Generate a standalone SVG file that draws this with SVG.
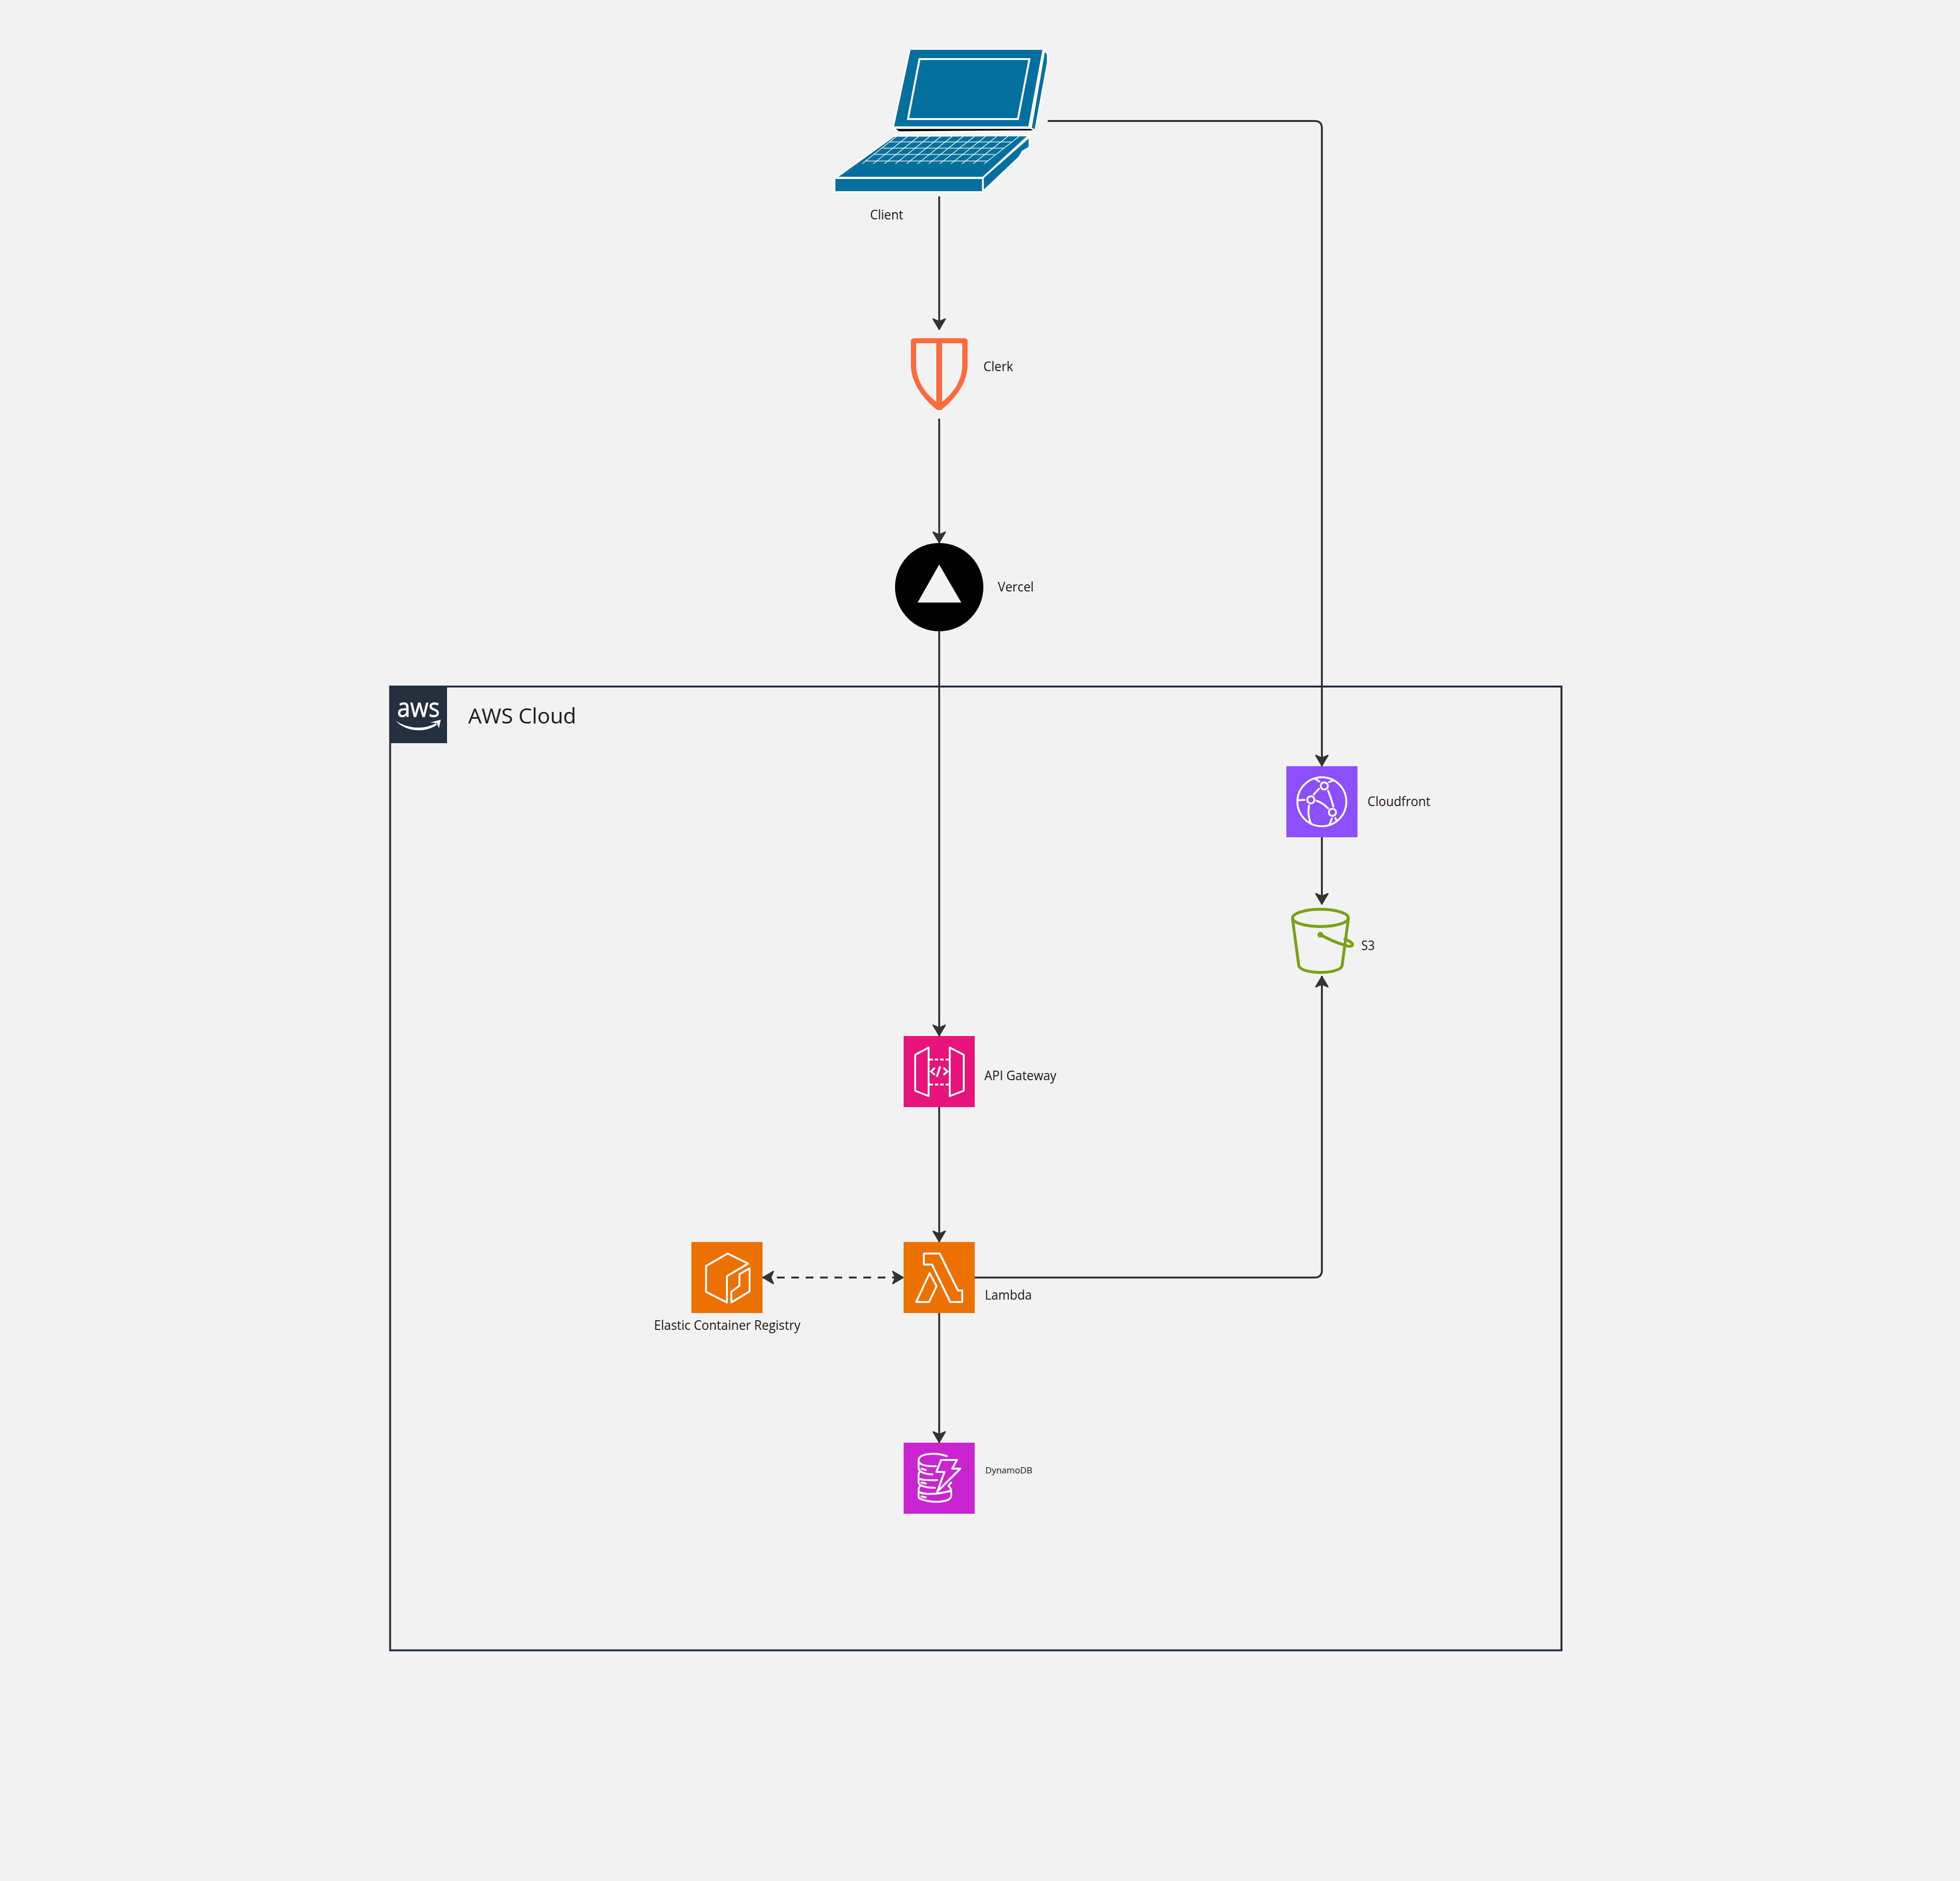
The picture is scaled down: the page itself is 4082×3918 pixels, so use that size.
<svg xmlns="http://www.w3.org/2000/svg" width="4082" height="3918" viewBox="0 0 4082 3918">
<style>
text{font-family:"Open Sans","Noto Sans","Liberation Sans",sans-serif;fill:#1a1a1a;font-size:26.5px}
.c{fill:none;stroke:#333;stroke-width:4}
.w{fill:none;stroke:#fff;stroke-width:4;stroke-linejoin:round;stroke-linecap:round}
.l{fill:#04709f;stroke:#fff;stroke-width:3.5;stroke-linejoin:miter}
.g{stroke:#fff;stroke-width:1.5;fill:none}
.g2{stroke:#cfe3ec;stroke-width:1.8;fill:none}
</style>
<defs>
<marker id="ah" markerUnits="userSpaceOnUse" markerWidth="36" markerHeight="36" viewBox="-32 -18 36 36" refX="0" refY="0" orient="auto-start-reverse">
<path d="M-22.5,-12.5 L-1.5,0 L-22.5,12.5 L-17,0 Z" fill="#333" stroke="#333" stroke-width="3" stroke-linejoin="round"/>
</marker>
</defs>
<rect width="4082" height="3918" fill="#f2f2f2"/>
<g id="aws-cloud">
<rect x="812.5" y="1430" width="2439.5" height="2007.5" fill="none" stroke="#232f3e" stroke-width="4"/>
<rect x="811" y="1428" width="120" height="120" fill="#232f3e"/>
<text x="827" y="1493" style="font-size:54px;fill:#fff;stroke:#fff;stroke-width:.8" textLength="89" lengthAdjust="spacingAndGlyphs">aws</text>
<path d="M824,1501 C850,1519 885,1520 908,1506 L910,1510 C885,1527 845,1525 824,1501 Z" fill="#fff"/>
<path d="M896,1505 L918,1499 L914,1517 L910,1506 Z" fill="#fff"/>
<text x="975" y="1507" style="font-size:44.5px" textLength="225" lengthAdjust="spacingAndGlyphs">AWS Cloud</text>
</g>
<g id="connectors">
<path class="c" d="M1956,409 V687" marker-end="url(#ah)"/>
<path class="c" d="M1956,872 V1131" marker-end="url(#ah)"/>
<path class="c" d="M1956,1315 V2158" marker-end="url(#ah)"/>
<path class="c" d="M1956,2306 V2587" marker-end="url(#ah)"/>
<path class="c" d="M1956,2735 V3005" marker-end="url(#ah)"/>
<path class="c" d="M2182,252 H2738 Q2753,252 2753,267 V1596" marker-end="url(#ah)"/>
<path class="c" d="M2753,1744 V1884" marker-end="url(#ah)"/>
<path class="c" d="M2030,2661 H2738 Q2753,2661 2753,2646 V2033" marker-end="url(#ah)"/>
<path class="c" d="M1588,2661 H1882" stroke-dasharray="16 14" marker-start="url(#ah)" marker-end="url(#ah)"/>
</g>
<g id="client">
<path class="l" d="M2175,105 L2182,112 V130 L2156,272 L2147,267 Z"/>
<path d="M1861,267 L2147,267 L2156,273 L1872,275 Z" fill="#000" stroke="#fff" stroke-width="3"/>
<path class="l" d="M1895,102 H2173 L2143,265 H1860 Z"/>
<path d="M1915,123 H2144 L2120,248 H1891 Z" fill="none" stroke="#fff" stroke-width="4"/>
<path class="l" d="M2047,370 L2144,285 V307 L2130,315 L2123,327 L2047,399 Z"/>
<path class="l" d="M1862,283 L2143,282 L2047,370 H1741 Z"/>
<path class="l" d="M1738,371 H2047 V400 H1738 Z"/>
<path class="g2" d="M1853,295.7H2107M1838,308.7H2090M1820,321.7H2072M1802,335.3H2058"/>
<path class="g" d="M1795.7,341L1866.7,284.3M1818.8,341L1889.9,284.3M1841.9,341L1913.1,284.3M1865,341L1936.3,284.3M1888.1,341L1959.5,284.3M1911.2,341L1982.7,284.3M1934.3,341L2005.9,284.3M1957.4,341L2029.1,284.3M1980.5,341L2052.3,284.3M2003.6,341L2075.5,284.3M2026.7,341L2098.7,284.3M2049.8,341L2121.9,284.3"/>
<text x="1812" y="456.5" textLength="69" lengthAdjust="spacingAndGlyphs">Client</text>
</g>
<g id="clerk">
<path fill="#ff6b3a" fill-rule="evenodd" d="M1902,704.6 H2010 L2015,708 V760 C2015,800 1985,835 1960,854 H1952 C1927,835 1897,800 1897,760 V708 Z M1908,715 V760 C1908,795 1930,822 1950,837 V715 Z M1962,715 V837 C1982,822 2004,795 2004,760 V715 Z"/>
<text x="2048" y="773" textLength="62" lengthAdjust="spacingAndGlyphs">Clerk</text>
</g>
<g id="vercel">
<circle cx="1956" cy="1223" r="92" fill="#000"/>
<path d="M1956,1176 L2002,1255 H1911 Z" fill="#f2f2f2"/>
<text x="2078" y="1232" textLength="75" lengthAdjust="spacingAndGlyphs">Vercel</text>
</g>
<g id="cloudfront">
<rect x="2679" y="1596" width="148" height="148" fill="#8c4fff"/>
<circle class="w" cx="2753" cy="1670" r="51"/>
<circle class="w" cx="2758" cy="1637" r="7.5"/>
<circle class="w" cx="2730" cy="1666" r="7.5"/>
<circle class="w" cx="2775" cy="1692" r="7.5"/>
<path class="w" d="M2747,1643 L2736,1655 M2766,1647 Q2773,1665 2777,1680 M2742,1668 Q2755,1672 2766,1684 M2726,1678 Q2723,1700 2730,1715 M2703,1667 L2717,1666 M2740,1623 L2748,1628 M2768,1629 L2778,1625 M2774,1705 L2769,1717 M2781,1704 L2783,1708"/>
<text x="2848" y="1679" textLength="131" lengthAdjust="spacingAndGlyphs">Cloudfront</text>
</g>
<g id="s3">
<g fill="none" stroke="#7aa116" stroke-width="6" stroke-linecap="round" stroke-linejoin="round">
<ellipse cx="2750" cy="1912" rx="58" ry="18"/>
<path d="M2692,1915 L2705,2012 C2712,2030 2788,2030 2795,2012 L2808,1915"/>
<path d="M2750,1947 C2770,1958 2790,1966 2805,1970 C2815,1973 2820,1968 2815,1964 C2812,1961 2806,1958 2801,1956"/>
</g>
<circle cx="2750" cy="1947" r="6" fill="#7aa116"/>
<text x="2835" y="1979" textLength="28" lengthAdjust="spacingAndGlyphs">S3</text>
</g>
<g id="api-gateway">
<rect x="1882" y="2158" width="148" height="148" fill="#e7157b"/>
<path class="w" d="M1906,2197 L1934,2182 V2283 L1906,2272 Z M1978,2182 L2007,2197 V2272 L1978,2283 Z"/>
<path class="w" style="stroke-linecap:butt" stroke-dasharray="7 4" d="M1936,2207 H1976 M1936,2259 H1976"/>
<path class="w" style="stroke-linecap:butt;stroke-linejoin:miter" d="M1947,2224 L1939,2232 L1947,2239 M1965,2224 L1973,2232 L1965,2239 M1958,2221 L1951,2243"/>
<text x="2050" y="2250" textLength="150" lengthAdjust="spacingAndGlyphs">API Gateway</text>
</g>
<g id="lambda">
<rect x="1882" y="2587" width="148" height="148" fill="#ed7100"/>
<path class="w" d="M1924,2611 H1957 L1995,2688 H2004 V2712 H1979 L1941,2634 H1924 Z M1936,2652 L1950.5,2679 L1935,2712 H1908 Z"/>
<text x="2051" y="2707" textLength="98" lengthAdjust="spacingAndGlyphs">Lambda</text>
</g>
<g id="ecr">
<rect x="1440" y="2587" width="148" height="148" fill="#ed7100"/>
<path class="w" d="M1515.5,2611 L1558,2632 L1514,2658 V2713 L1470.5,2691 V2637 Z M1561,2642 V2690 L1523,2713 V2691 L1540,2678 V2654 Z"/>
<text x="1362" y="2770" textLength="305" lengthAdjust="spacingAndGlyphs">Elastic Container Registry</text>
</g>
<g id="dynamodb">
<rect x="1882" y="3005" width="148" height="148" fill="#c925d1"/>
<path class="w" d="M1972,3033 C1945,3024 1913,3028 1913,3042 C1913,3052 1932,3055 1949,3054 M1913,3042 V3058 C1913,3066 1928,3071 1942,3071 M1915,3066 C1912,3070 1913,3075 1913,3080 C1915,3082 1935,3084 1952,3083 M1913,3080 V3088 C1913,3095 1930,3099 1947,3099 M1917,3094 C1913,3098 1913,3102 1913,3105 V3118 C1913,3124 1945,3131 1963,3127 C1975,3126 1981,3120 1981,3116 V3105 C1981,3100 1977,3097 1975,3095 L1981,3088 M1913,3105 C1915,3113 1945,3115 1981,3105 M1960,3041 H1993 L1983,3059 H2000 L1952,3107 L1967,3066 H1950 Z M1919,3059 L1928,3062 M1919,3088 L1928,3090 M1919,3117 L1928,3119"/>
<text x="2052" y="3069" style="font-size:18.5px" textLength="98" lengthAdjust="spacingAndGlyphs">DynamoDB</text>
</g>
</svg>
